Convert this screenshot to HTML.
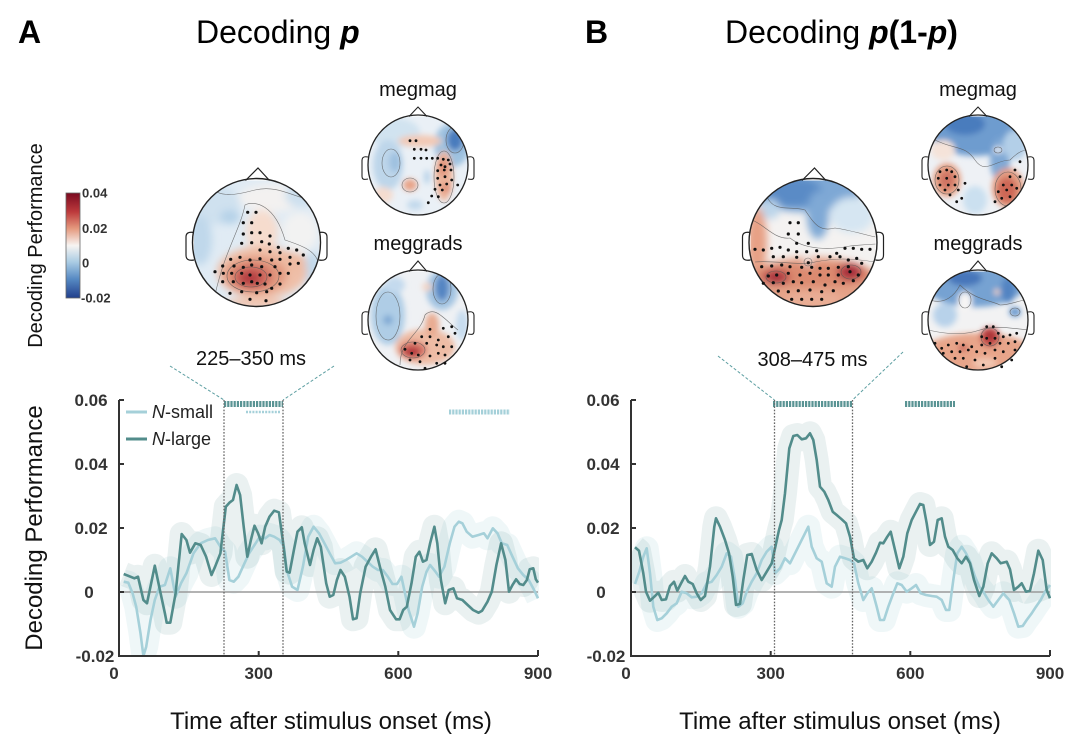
<!DOCTYPE html>
<html><head><meta charset="utf-8"><style>
html,body{margin:0;padding:0;background:#fff;}
svg{display:block;}
text{font-family:"Liberation Sans",Arial,sans-serif;}
</style></head><body>
<svg width="1080" height="750" viewBox="0 0 1080 750" xmlns="http://www.w3.org/2000/svg">
<defs>
<filter id="b4" x="-30%" y="-30%" width="160%" height="160%"><feGaussianBlur stdDeviation="4"/></filter>
<filter id="b3" x="-30%" y="-30%" width="160%" height="160%"><feGaussianBlur stdDeviation="3"/></filter>
<clipPath id="cL"><circle cx="256.5" cy="242.5" r="64"/></clipPath>
<clipPath id="cR"><circle cx="813" cy="242.5" r="64"/></clipPath>
<clipPath id="c1"><circle cx="418" cy="165" r="50"/></clipPath>
<clipPath id="c2"><circle cx="418" cy="320" r="50"/></clipPath>
<clipPath id="c3"><circle cx="978" cy="165" r="50"/></clipPath>
<clipPath id="c4"><circle cx="978" cy="320" r="50"/></clipPath>
<clipPath id="pL"><rect x="119" y="395" width="420" height="261"/></clipPath>
<clipPath id="pR"><rect x="631" y="395" width="420" height="261"/></clipPath>
<linearGradient id="cbar" x1="0" y1="0" x2="0" y2="1">
<stop offset="0" stop-color="#7a0a20"/>
<stop offset="0.18" stop-color="#bd3a3c"/>
<stop offset="0.34" stop-color="#e59a7f"/>
<stop offset="0.5" stop-color="#f7f4f2"/>
<stop offset="0.66" stop-color="#a9cbe3"/>
<stop offset="0.82" stop-color="#5689c3"/>
<stop offset="1" stop-color="#213f8c"/>
</linearGradient>
</defs>

<!-- Panel titles -->
<text x="18" y="43" font-size="32" font-weight="bold" fill="#000">A</text>
<text x="196" y="43" font-size="32" fill="#000">Decoding <tspan font-weight="bold" font-style="italic">p</tspan></text>
<text x="585" y="43" font-size="32" font-weight="bold" fill="#000">B</text>
<text x="725" y="43" font-size="32" fill="#000">Decoding <tspan font-weight="bold" font-style="italic">p</tspan><tspan font-weight="bold">(1-</tspan><tspan font-weight="bold" font-style="italic">p</tspan><tspan font-weight="bold">)</tspan></text>

<!-- Colorbar -->
<text transform="translate(42,245.5) rotate(-90)" text-anchor="middle" font-size="20" fill="#111">Decoding Performance</text>
<rect x="66" y="193" width="14" height="105" fill="url(#cbar)" stroke="#666" stroke-width="0.8"/>
<g font-size="13" font-weight="bold" fill="#333">
<text x="82" y="197.5">0.04</text>
<text x="82" y="233">0.02</text>
<text x="82" y="267.5">0</text>
<text x="81" y="302.5">-0.02</text>
</g>

<!-- ===== LEFT BIG HEAD ===== -->
<g clip-path="url(#cL)">
<circle cx="256.5" cy="242.5" r="64" fill="#e0ebf4"/>
<g filter="url(#b4)">
<ellipse cx="272" cy="198" rx="33" ry="14" fill="#f3f1f0"/>
<ellipse cx="300" cy="232" rx="18" ry="20" fill="#f2f2f2"/>
<ellipse cx="215" cy="205" rx="25" ry="20" fill="#cfe1ef"/>
<ellipse cx="230" cy="217" rx="10" ry="7" fill="#b5d2e8"/>
<ellipse cx="200" cy="240" rx="12" ry="25" fill="#c0d8eb"/>
<ellipse cx="300" cy="195" rx="15" ry="12" fill="#cde0ef"/>
<ellipse cx="313" cy="270" rx="8" ry="18" fill="#c2d9eb"/>
<ellipse cx="262" cy="232" rx="16" ry="22" fill="#f6dccd"/>
<ellipse cx="262" cy="272" rx="45" ry="26" fill="#efbfa8"/>
<ellipse cx="292" cy="262" rx="14" ry="10" fill="#eebba3"/>
<ellipse cx="255" cy="275" rx="32" ry="19" fill="#e29a80"/>
<ellipse cx="252" cy="277" rx="20" ry="13" fill="#cf6a5e"/>
<ellipse cx="250" cy="278" rx="11" ry="7" fill="#b23a40"/>
<ellipse cx="256" cy="303" rx="30" ry="6" fill="#f0c6b2"/>
</g>
<g fill="none" stroke="#555" stroke-width="0.6" opacity="0.8">
<ellipse cx="253" cy="276" rx="26" ry="16"/>
<ellipse cx="251" cy="277" rx="16" ry="10"/>
<path d="M215,295 C225,250 240,230 245,205 C255,200 275,205 285,240 C300,245 315,250 318,262"/>
<path d="M205,180 C215,200 235,195 255,190 C275,185 290,195 310,200"/>
</g>
</g>
<path d="M194,232.5 C188,231.5 186,233.5 186,237 L186,255 C186,259 188,261 194,260" fill="#fff" stroke="#222" stroke-width="1.2"/>
<path d="M319,232.5 C325,231.5 327,233.5 327,237 L327,255 C327,259 325,261 319,260" fill="#fff" stroke="#222" stroke-width="1.2"/>
<path d="M245.5,180.5 L258,168 L269.5,180.5" fill="#fff" stroke="#222" stroke-width="1.2"/>
<circle cx="256.5" cy="242.5" r="64" fill="none" stroke="#222" stroke-width="1.4"/>
<g fill="#111">
<circle cx="247.7" cy="212.3" r="1.6"/><circle cx="256" cy="212.3" r="1.6"/><circle cx="243.3" cy="222.7" r="1.6"/><circle cx="251.7" cy="222.7" r="1.6"/><circle cx="243.3" cy="234" r="1.6"/><circle cx="251.7" cy="232.7" r="1.6"/><circle cx="260" cy="232.7" r="1.6"/><circle cx="241.7" cy="243.3" r="1.6"/><circle cx="251.7" cy="242.7" r="1.6"/><circle cx="261.7" cy="241.7" r="1.6"/><circle cx="270" cy="236" r="1.6"/><circle cx="269.3" cy="244" r="1.6"/><circle cx="278.3" cy="247.3" r="1.6"/><circle cx="288.3" cy="248.3" r="1.6"/><circle cx="296.7" cy="250" r="1.6"/><circle cx="260" cy="250" r="1.6"/><circle cx="270" cy="251.7" r="1.6"/><circle cx="280" cy="252.7" r="1.6"/><circle cx="230.7" cy="259.3" r="1.6"/><circle cx="240" cy="257.3" r="1.6"/><circle cx="250" cy="260" r="1.6"/><circle cx="260" cy="258.7" r="1.6"/><circle cx="271.7" cy="260" r="1.6"/><circle cx="280" cy="259.3" r="1.6"/><circle cx="290" cy="257.3" r="1.6"/><circle cx="303.3" cy="255" r="1.6"/><circle cx="222.7" cy="266" r="1.6"/><circle cx="234" cy="266" r="1.6"/><circle cx="243.3" cy="267.3" r="1.6"/><circle cx="251.7" cy="265" r="1.6"/><circle cx="261.7" cy="266.7" r="1.6"/><circle cx="275" cy="266.7" r="1.6"/><circle cx="290" cy="264" r="1.6"/><circle cx="298.3" cy="263.3" r="1.6"/><circle cx="215" cy="271.7" r="1.6"/><circle cx="223.3" cy="273.3" r="1.6"/><circle cx="231.7" cy="273.3" r="1.6"/><circle cx="241.7" cy="273.3" r="1.6"/><circle cx="250" cy="275" r="1.6"/><circle cx="260" cy="275" r="1.6"/><circle cx="270" cy="275" r="1.6"/><circle cx="280" cy="273.3" r="1.6"/><circle cx="288.3" cy="273.3" r="1.6"/><circle cx="222.7" cy="281.7" r="1.6"/><circle cx="233.3" cy="281.7" r="1.6"/><circle cx="243.3" cy="283.3" r="1.6"/><circle cx="251.7" cy="281.7" r="1.6"/><circle cx="257.3" cy="283.3" r="1.6"/><circle cx="265" cy="284" r="1.6"/><circle cx="271.7" cy="288.3" r="1.6"/><circle cx="280" cy="284" r="1.6"/><circle cx="230" cy="293.3" r="1.6"/><circle cx="241.7" cy="291.7" r="1.6"/><circle cx="256.7" cy="292.7" r="1.6"/><circle cx="266.7" cy="291.7" r="1.6"/><circle cx="250" cy="299.3" r="1.6"/><circle cx="266" cy="300.7" r="1.6"/>
</g>

<!-- ===== LEFT MEGMAG ===== -->
<text x="418" y="96" text-anchor="middle" font-size="20" fill="#111">megmag</text>
<g clip-path="url(#c1)">
<circle cx="418" cy="165" r="50" fill="#eaf0f6"/>
<g filter="url(#b3)">
<ellipse cx="395" cy="133" rx="25" ry="15" fill="#d1e3f0"/>
<ellipse cx="452" cy="145" rx="18" ry="22" fill="#9fc2e0"/>
<ellipse cx="455" cy="140" rx="8" ry="11" fill="#4a7bbd"/>
<ellipse cx="388" cy="165" rx="15" ry="25" fill="#bdd6ea"/>
<ellipse cx="395" cy="162" rx="6" ry="10" fill="#9fc1e0"/>
<ellipse cx="420" cy="141" rx="22" ry="6" fill="#f2c9b5"/>
<ellipse cx="444" cy="176" rx="9" ry="25" fill="#edb69d"/>
<ellipse cx="443" cy="167" rx="5" ry="9" fill="#e0937a"/>
<ellipse cx="446" cy="188" rx="5" ry="5" fill="#e0937a"/>
<ellipse cx="410" cy="185" rx="7" ry="6" fill="#e8a286"/>
<ellipse cx="427" cy="177" rx="3" ry="7" fill="#b7d2e8"/>
<ellipse cx="415" cy="205" rx="8" ry="5" fill="#c2d9ec"/>
<ellipse cx="383" cy="195" rx="10" ry="8" fill="#f5dccf"/>
</g>
<g fill="none" stroke="#555" stroke-width="0.6" opacity="0.8">
<ellipse cx="455" cy="140" rx="9" ry="13"/>
<ellipse cx="444" cy="177" rx="10" ry="26"/>
<ellipse cx="410" cy="185" rx="8" ry="7"/>
<ellipse cx="391" cy="163" rx="9" ry="14"/>
</g>
</g>
<path d="M368,157 C363,156 362,158 362,161 L362,176 C362,179 363,180 368,179" fill="#fff" stroke="#222" stroke-width="1.1"/>
<path d="M468,157 C473,156 474,158 474,161 L474,176 C474,179 473,180 468,179" fill="#fff" stroke="#222" stroke-width="1.1"/>
<path d="M409,116.5 L418,107 L427,116.5" fill="#fff" stroke="#222" stroke-width="1.1"/>
<circle cx="418" cy="165" r="50" fill="none" stroke="#222" stroke-width="1.3"/>
<g fill="#111">
<circle cx="410" cy="140.7" r="1.4"/><circle cx="416" cy="140.7" r="1.4"/><circle cx="414.3" cy="149.3" r="1.4"/><circle cx="421" cy="149.3" r="1.4"/><circle cx="426" cy="150" r="1.4"/><circle cx="414.3" cy="158.3" r="1.4"/><circle cx="421" cy="158.3" r="1.4"/><circle cx="426.7" cy="158.3" r="1.4"/><circle cx="432.3" cy="158.3" r="1.4"/><circle cx="437.7" cy="158.3" r="1.4"/><circle cx="443.3" cy="159.3" r="1.4"/><circle cx="448.3" cy="160" r="1.4"/><circle cx="441" cy="165" r="1.4"/><circle cx="445" cy="166.7" r="1.4"/><circle cx="450" cy="164" r="1.4"/><circle cx="437.7" cy="170.7" r="1.4"/><circle cx="444.3" cy="170" r="1.4"/><circle cx="451" cy="170" r="1.4"/><circle cx="437.7" cy="178.3" r="1.4"/><circle cx="445" cy="176.7" r="1.4"/><circle cx="451.7" cy="180" r="1.4"/><circle cx="457.7" cy="185" r="1.4"/><circle cx="440" cy="185" r="1.4"/><circle cx="446.7" cy="184" r="1.4"/><circle cx="435" cy="189.3" r="1.4"/><circle cx="442.3" cy="190" r="1.4"/><circle cx="431.7" cy="196" r="1.4"/><circle cx="438.3" cy="196.7" r="1.4"/><circle cx="428.3" cy="202.7" r="1.4"/>
</g>

<!-- ===== LEFT MEGGRADS ===== -->
<text x="418" y="250" text-anchor="middle" font-size="20" fill="#111">meggrads</text>
<g clip-path="url(#c2)">
<circle cx="418" cy="320" r="50" fill="#eff1f4"/>
<g filter="url(#b3)">
<ellipse cx="388" cy="315" rx="17" ry="30" fill="#afcde6"/>
<ellipse cx="388" cy="320" rx="5" ry="5" fill="#7fa9d4"/>
<ellipse cx="442" cy="290" rx="16" ry="20" fill="#a4c5e2"/>
<ellipse cx="442" cy="288" rx="7" ry="13" fill="#5585c2"/>
<ellipse cx="427" cy="287" rx="5" ry="4" fill="#f3d3c3"/>
<ellipse cx="425" cy="347" rx="30" ry="18" fill="#eebca5"/>
<ellipse cx="432" cy="325" rx="7" ry="12" fill="#e9ac92"/>
<ellipse cx="413" cy="350" rx="14" ry="9" fill="#d7786a"/>
<ellipse cx="412" cy="352" rx="8" ry="5" fill="#b3343b"/>
<ellipse cx="462" cy="325" rx="6" ry="15" fill="#c6dcef"/>
<ellipse cx="395" cy="285" rx="10" ry="8" fill="#c4daee"/>
</g>
<g fill="none" stroke="#555" stroke-width="0.6" opacity="0.8">
<ellipse cx="442" cy="289" rx="9" ry="15"/>
<ellipse cx="413" cy="350" rx="12" ry="8"/>
<ellipse cx="388" cy="316" rx="12" ry="24"/>
<path d="M400,365 C400,340 420,335 425,315 C435,305 445,320 458,330"/>
</g>
</g>
<path d="M368,312 C363,311 362,313 362,316 L362,331 C362,334 363,335 368,334" fill="#fff" stroke="#222" stroke-width="1.1"/>
<path d="M468,312 C473,311 474,313 474,316 L474,331 C474,334 473,335 468,334" fill="#fff" stroke="#222" stroke-width="1.1"/>
<path d="M409,271.5 L418,261 L427,271.5" fill="#fff" stroke="#222" stroke-width="1.1"/>
<circle cx="418" cy="320" r="50" fill="none" stroke="#222" stroke-width="1.3"/>
<g fill="#111">
<circle cx="430" cy="329.3" r="1.4"/><circle cx="421.7" cy="336.7" r="1.4"/><circle cx="430" cy="336.7" r="1.4"/><circle cx="438.3" cy="340" r="1.4"/><circle cx="415" cy="343.3" r="1.4"/><circle cx="426.7" cy="343.3" r="1.4"/><circle cx="436.7" cy="345" r="1.4"/><circle cx="448.3" cy="336.7" r="1.4"/><circle cx="455" cy="333.3" r="1.4"/><circle cx="443.3" cy="346.7" r="1.4"/><circle cx="451.7" cy="346.7" r="1.4"/><circle cx="405" cy="349.3" r="1.4"/><circle cx="411.7" cy="353.3" r="1.4"/><circle cx="418.3" cy="355" r="1.4"/><circle cx="410" cy="360" r="1.4"/><circle cx="420" cy="361.7" r="1.4"/><circle cx="430" cy="356" r="1.4"/><circle cx="438.3" cy="353.3" r="1.4"/><circle cx="445" cy="355" r="1.4"/><circle cx="436.7" cy="363.3" r="1.4"/><circle cx="445" cy="363.3" r="1.4"/><circle cx="425" cy="368.3" r="1.4"/><circle cx="451.7" cy="326.7" r="1.4"/><circle cx="443.3" cy="328.3" r="1.4"/>
</g>

<!-- ===== RIGHT BIG HEAD ===== -->
<g clip-path="url(#cR)">
<circle cx="813" cy="242.5" r="64" fill="#f4f2f1"/>
<g filter="url(#b4)">
<ellipse cx="805" cy="188" rx="58" ry="24" fill="#7ea8d5"/>
<ellipse cx="792" cy="192" rx="30" ry="15" fill="#5a8bc6"/>
<ellipse cx="818" cy="215" rx="11" ry="24" fill="#7fa9d5"/>
<ellipse cx="852" cy="215" rx="22" ry="18" fill="#d6e6f2"/>
<ellipse cx="770" cy="209" rx="10" ry="10" fill="#bcd5ea"/>
<ellipse cx="757" cy="242" rx="10" ry="35" fill="#e7a085"/>
<ellipse cx="813" cy="287" rx="72" ry="30" fill="#e4a187"/>
<ellipse cx="813" cy="275" rx="60" ry="12" fill="#dc8a70"/>
<ellipse cx="776" cy="277" rx="14" ry="8" fill="#bb4548"/>
<ellipse cx="850" cy="272" rx="13" ry="9" fill="#b63b44"/>
<ellipse cx="776" cy="278" rx="6" ry="4" fill="#9c2236"/>
<ellipse cx="850" cy="272" rx="6" ry="5" fill="#9c2236"/>
<ellipse cx="813" cy="300" rx="30" ry="9" fill="#e9ad95"/>
<ellipse cx="808" cy="262" rx="4" ry="4" fill="#f4ece8"/>
</g>
<g fill="none" stroke="#555" stroke-width="0.6" opacity="0.8">
<path d="M765,190 C770,215 790,205 805,210 C815,225 820,232 835,228 C850,230 865,235 880,238"/>
<path d="M752,220 C765,225 775,240 790,238 C805,250 830,250 850,246 C862,245 870,244 878,244"/>
<ellipse cx="776" cy="277" rx="10" ry="6"/>
<ellipse cx="851" cy="272" rx="10" ry="7"/>
<ellipse cx="808" cy="262" rx="4" ry="4"/>
<path d="M755,262 C775,260 800,266 815,262 C835,258 850,258 875,262"/>
</g>
</g>
<path d="M750.5,232.5 C744.5,231.5 742.5,233.5 742.5,237 L742.5,255 C742.5,259 744.5,261 750.5,260" fill="#fff" stroke="#222" stroke-width="1.2"/>
<path d="M875.5,232.5 C881.5,231.5 883.5,233.5 883.5,237 L883.5,255 C883.5,259 881.5,261 875.5,260" fill="#fff" stroke="#222" stroke-width="1.2"/>
<path d="M802,180.5 L814.5,168 L826,180.5" fill="#fff" stroke="#222" stroke-width="1.2"/>
<circle cx="813" cy="242.5" r="64" fill="none" stroke="#222" stroke-width="1.4"/>
<g fill="#111">
<circle cx="790" cy="222.7" r="1.6"/><circle cx="798.3" cy="222.7" r="1.6"/><circle cx="788.3" cy="234" r="1.6"/><circle cx="798.3" cy="234" r="1.6"/><circle cx="796.7" cy="243.3" r="1.6"/><circle cx="808.3" cy="243.3" r="1.6"/><circle cx="780" cy="247.3" r="1.6"/><circle cx="771.7" cy="248.3" r="1.6"/><circle cx="763.3" cy="250" r="1.6"/><circle cx="755" cy="249.3" r="1.6"/><circle cx="788.3" cy="250" r="1.6"/><circle cx="796.7" cy="251.7" r="1.6"/><circle cx="806.7" cy="251.7" r="1.6"/><circle cx="816.7" cy="250.7" r="1.6"/><circle cx="830" cy="256.7" r="1.6"/><circle cx="836.7" cy="253.3" r="1.6"/><circle cx="845" cy="248.3" r="1.6"/><circle cx="853.3" cy="248.3" r="1.6"/><circle cx="861.7" cy="249.3" r="1.6"/><circle cx="870" cy="249.3" r="1.6"/><circle cx="773.3" cy="256.7" r="1.6"/><circle cx="783.3" cy="256.7" r="1.6"/><circle cx="796.7" cy="257.3" r="1.6"/><circle cx="818.3" cy="256.7" r="1.6"/><circle cx="840" cy="256.7" r="1.6"/><circle cx="848.3" cy="260" r="1.6"/><circle cx="856.7" cy="258.3" r="1.6"/><circle cx="761.7" cy="266.7" r="1.6"/><circle cx="771.7" cy="266" r="1.6"/><circle cx="781.7" cy="265" r="1.6"/><circle cx="790" cy="266.7" r="1.6"/><circle cx="801.7" cy="267.3" r="1.6"/><circle cx="811.7" cy="267.3" r="1.6"/><circle cx="820" cy="268.3" r="1.6"/><circle cx="828.3" cy="268.3" r="1.6"/><circle cx="838.3" cy="267.3" r="1.6"/><circle cx="848.3" cy="266.7" r="1.6"/><circle cx="861.7" cy="263.3" r="1.6"/><circle cx="768.3" cy="276" r="1.6"/><circle cx="776.7" cy="275" r="1.6"/><circle cx="788.3" cy="273.3" r="1.6"/><circle cx="800" cy="275" r="1.6"/><circle cx="810" cy="273.3" r="1.6"/><circle cx="820" cy="275" r="1.6"/><circle cx="828.3" cy="275" r="1.6"/><circle cx="838.3" cy="275" r="1.6"/><circle cx="850" cy="271.7" r="1.6"/><circle cx="858.3" cy="275" r="1.6"/><circle cx="763.3" cy="283.3" r="1.6"/><circle cx="773.3" cy="282.7" r="1.6"/><circle cx="783.3" cy="283.3" r="1.6"/><circle cx="793.3" cy="281.7" r="1.6"/><circle cx="801.7" cy="282.7" r="1.6"/><circle cx="813.3" cy="281.7" r="1.6"/><circle cx="825" cy="285" r="1.6"/><circle cx="835" cy="281.7" r="1.6"/><circle cx="843.3" cy="283.3" r="1.6"/><circle cx="853.3" cy="280.7" r="1.6"/><circle cx="778.3" cy="291" r="1.6"/><circle cx="788.3" cy="291.7" r="1.6"/><circle cx="798.3" cy="290.7" r="1.6"/><circle cx="810" cy="290" r="1.6"/><circle cx="821.7" cy="291.7" r="1.6"/><circle cx="833.3" cy="290.7" r="1.6"/><circle cx="791.7" cy="299.3" r="1.6"/><circle cx="801.7" cy="299.3" r="1.6"/><circle cx="811.7" cy="299.3" r="1.6"/><circle cx="821.7" cy="299.3" r="1.6"/><circle cx="808.3" cy="262.7" r="1.6"/>
</g>

<!-- ===== RIGHT MEGMAG ===== -->
<text x="978" y="96" text-anchor="middle" font-size="20" fill="#111">megmag</text>
<g clip-path="url(#c3)">
<circle cx="978" cy="165" r="50" fill="#eef1f5"/>
<g filter="url(#b3)">
<ellipse cx="975" cy="133" rx="44" ry="23" fill="#6e9ccf"/>
<ellipse cx="965" cy="124" rx="20" ry="11" fill="#4a7bbd"/>
<ellipse cx="1000" cy="160" rx="10" ry="22" fill="#80a9d5"/>
<ellipse cx="1015" cy="145" rx="12" ry="15" fill="#b3cfe8"/>
<ellipse cx="998" cy="150" rx="4" ry="3" fill="#f7f7f7"/>
<ellipse cx="943" cy="150" rx="12" ry="10" fill="#f5e3d9"/>
<ellipse cx="947" cy="180" rx="14" ry="17" fill="#e6a185"/>
<ellipse cx="947" cy="180" rx="8" ry="10" fill="#d07563"/>
<ellipse cx="1008" cy="188" rx="16" ry="20" fill="#e49d82"/>
<ellipse cx="1007" cy="190" rx="10" ry="13" fill="#cd6757"/>
<ellipse cx="975" cy="200" rx="12" ry="14" fill="#cbe0f0"/>
</g>
<g fill="none" stroke="#555" stroke-width="0.6" opacity="0.8">
<ellipse cx="947" cy="180" rx="12" ry="14"/>
<ellipse cx="1008" cy="189" rx="13" ry="17"/>
<ellipse cx="998" cy="150" rx="4" ry="3"/>
<path d="M935,140 C955,150 965,145 975,160 C985,175 995,160 1010,160 C1020,150 1025,150 1028,150"/>
</g>
</g>
<path d="M928,157 C923,156 922,158 922,161 L922,176 C922,179 923,180 928,179" fill="#fff" stroke="#222" stroke-width="1.1"/>
<path d="M1028,157 C1033,156 1034,158 1034,161 L1034,176 C1034,179 1033,180 1028,179" fill="#fff" stroke="#222" stroke-width="1.1"/>
<path d="M969,116.5 L978,107 L987,116.5" fill="#fff" stroke="#222" stroke-width="1.1"/>
<circle cx="978" cy="165" r="50" fill="none" stroke="#222" stroke-width="1.3"/>
<g fill="#111">
<circle cx="940" cy="171.7" r="1.4"/><circle cx="946.7" cy="170" r="1.4"/><circle cx="951.7" cy="171.7" r="1.4"/><circle cx="938.3" cy="178.3" r="1.4"/><circle cx="946.7" cy="178.3" r="1.4"/><circle cx="955" cy="176.7" r="1.4"/><circle cx="940" cy="185" r="1.4"/><circle cx="948.3" cy="185" r="1.4"/><circle cx="955" cy="185" r="1.4"/><circle cx="965" cy="183.3" r="1.4"/><circle cx="945" cy="190" r="1.4"/><circle cx="958.3" cy="190" r="1.4"/><circle cx="950" cy="195" r="1.4"/><circle cx="956.7" cy="201.7" r="1.4"/><circle cx="961.7" cy="198.3" r="1.4"/>
<circle cx="1020" cy="161.7" r="1.4"/><circle cx="1015" cy="170" r="1.4"/><circle cx="1010" cy="176.7" r="1.4"/><circle cx="1020" cy="176.7" r="1.4"/><circle cx="1003.3" cy="185" r="1.4"/><circle cx="1011.7" cy="185" r="1.4"/><circle cx="998.3" cy="191.7" r="1.4"/><circle cx="1006.7" cy="190" r="1.4"/><circle cx="1016.7" cy="188.3" r="1.4"/><circle cx="1001.7" cy="198.3" r="1.4"/><circle cx="1010" cy="196.7" r="1.4"/><circle cx="995" cy="201.7" r="1.4"/>
</g>

<!-- ===== RIGHT MEGGRADS ===== -->
<text x="978" y="250" text-anchor="middle" font-size="20" fill="#111">meggrads</text>
<g clip-path="url(#c4)">
<circle cx="978" cy="320" r="50" fill="#f2f2f3"/>
<g filter="url(#b3)">
<ellipse cx="975" cy="287" rx="48" ry="20" fill="#76a2d2"/>
<ellipse cx="965" cy="278" rx="17" ry="8" fill="#4676ba"/>
<ellipse cx="1008" cy="290" rx="7" ry="13" fill="#5284c2"/>
<ellipse cx="965" cy="301" rx="7" ry="9" fill="#f7f5f4"/>
<ellipse cx="997" cy="292" rx="3" ry="3" fill="#f3d3c3"/>
<ellipse cx="1015" cy="312" rx="6" ry="5" fill="#6a99ce"/>
<ellipse cx="945" cy="315" rx="12" ry="12" fill="#b8d2ea"/>
<ellipse cx="978" cy="353" rx="56" ry="20" fill="#e8a58a"/>
<ellipse cx="990" cy="337" rx="10" ry="10" fill="#c4504c"/>
<ellipse cx="990" cy="336" rx="5" ry="5" fill="#a82d36"/>
<ellipse cx="963" cy="348" rx="5" ry="3" fill="#c65a52"/>
<ellipse cx="985" cy="363" rx="12" ry="5" fill="#f2c8b4"/>
</g>
<g fill="none" stroke="#555" stroke-width="0.6" opacity="0.8">
<ellipse cx="990" cy="337" rx="9" ry="9"/>
<ellipse cx="965" cy="300" rx="6" ry="8"/>
<ellipse cx="1015" cy="312" rx="5" ry="4"/>
<path d="M928,330 C950,335 965,335 980,330 C995,325 1010,328 1028,330"/>
<path d="M930,300 C945,305 955,295 960,285 C975,300 990,300 1000,305 C1010,305 1020,300 1026,300"/>
</g>
</g>
<path d="M928,312 C923,311 922,313 922,316 L922,331 C922,334 923,335 928,334" fill="#fff" stroke="#222" stroke-width="1.1"/>
<path d="M1028,312 C1033,311 1034,313 1034,316 L1034,331 C1034,334 1033,335 1028,334" fill="#fff" stroke="#222" stroke-width="1.1"/>
<path d="M969,271.5 L978,261 L987,271.5" fill="#fff" stroke="#222" stroke-width="1.1"/>
<circle cx="978" cy="320" r="50" fill="none" stroke="#222" stroke-width="1.3"/>
<g fill="#111">
<circle cx="986.7" cy="326.7" r="1.4"/><circle cx="993.3" cy="326.7" r="1.4"/><circle cx="998.3" cy="333.3" r="1.4"/><circle cx="981.7" cy="336.7" r="1.4"/><circle cx="986.7" cy="338.3" r="1.4"/><circle cx="995" cy="338.3" r="1.4"/><circle cx="1003.3" cy="336.7" r="1.4"/><circle cx="1010" cy="335" r="1.4"/><circle cx="1016.7" cy="333.3" r="1.4"/><circle cx="1015" cy="341.7" r="1.4"/><circle cx="1008.3" cy="343.3" r="1.4"/><circle cx="1000" cy="343.3" r="1.4"/><circle cx="990" cy="343.3" r="1.4"/><circle cx="981.7" cy="345" r="1.4"/><circle cx="971.7" cy="346.7" r="1.4"/><circle cx="963.3" cy="345" r="1.4"/><circle cx="956.7" cy="343.3" r="1.4"/><circle cx="948.3" cy="345" r="1.4"/><circle cx="941.7" cy="348.3" r="1.4"/><circle cx="935" cy="343.3" r="1.4"/><circle cx="943.3" cy="353.3" r="1.4"/><circle cx="951.7" cy="351.7" r="1.4"/><circle cx="960" cy="351.7" r="1.4"/><circle cx="968.3" cy="350" r="1.4"/><circle cx="976.7" cy="351.7" r="1.4"/><circle cx="985" cy="353.3" r="1.4"/><circle cx="995" cy="350" r="1.4"/><circle cx="1003.3" cy="351.7" r="1.4"/><circle cx="1015" cy="350" r="1.4"/><circle cx="955" cy="358.3" r="1.4"/><circle cx="963.3" cy="358.3" r="1.4"/><circle cx="975" cy="360" r="1.4"/><circle cx="995" cy="358.3" r="1.4"/><circle cx="1011.7" cy="360" r="1.4"/><circle cx="983.3" cy="365" r="1.4"/><circle cx="966.7" cy="366.7" r="1.4"/><circle cx="1001.7" cy="366.7" r="1.4"/>
</g>

<!-- time window labels -->
<text x="251" y="365" text-anchor="middle" font-size="20" fill="#111">225–350 ms</text>
<text x="812.5" y="366" text-anchor="middle" font-size="20" fill="#111">308–475 ms</text>

<!-- diagonal connectors -->
<g stroke="#5c9ea1" stroke-width="1" stroke-dasharray="3 2" fill="none">
<line x1="170" y1="366" x2="224" y2="400"/>
<line x1="334" y1="366" x2="283" y2="400"/>
<line x1="718" y1="356" x2="774.5" y2="400"/>
<line x1="903" y1="352" x2="852.5" y2="400"/>
</g>

<!-- ===== LEFT PLOT ===== -->
<g clip-path="url(#pL)">
<polyline fill="none" stroke="#a5d0d9" stroke-opacity="0.18" stroke-width="24" stroke-linejoin="round" stroke-linecap="butt" points="123.7,581.7 128.3,582.7 132.6,593.3 136.2,606.7 140.5,633.3 143.4,656 146.2,646.7 150.5,620 154.8,600 159.5,586.7 164.9,585 170.3,568.3 175.6,596.7 181,583.3 186.4,573.3 193.5,553.3 200.7,543.3 207.9,540 215.1,538.3 220.4,546.7 225.1,551.7 229.4,580 233.7,581.7 238.4,576.7 243.7,565 249.1,553.3 254.5,545 259.9,536.7 265.2,538.3 269.5,535 274.2,536.7 279.6,540 283.9,546.7 286.7,570 292.1,586.7 297.5,590 302.9,566.7 308.2,536.7 313.6,526.7 319,533.3 324.4,543.3 329.7,553.3 335.1,563.3 340.5,562.7 345.9,560 351.3,556.7 356.6,553.3 362,556.7 367.4,561.7 372.8,566.7 378.1,570 382.8,570 387.8,576.7 392.5,584 397.1,584 401.4,576.7 405,593.3 408.6,610 414,626.7 417.6,613.3 422.2,586.7 426.5,571.7 430.1,565 435.5,571.7 439.1,576.7 444.4,566.7 449.8,543.3 454.5,526.7 458.8,521.7 462.4,523.3 466.7,531.7 472.4,536.7 478.5,535 483.9,533.3 487.5,538.3 492.8,528.3 497.5,533.3 501.8,543.3 507.2,545 512.5,556.7 517.9,568.3 523.3,575 528.7,580 534.1,590 538,598.3"/>
<polyline fill="none" stroke="#5e9393" stroke-opacity="0.13" stroke-width="24" stroke-linejoin="round" stroke-linecap="butt" points="123.7,574 134.4,578.3 138,576.7 143.4,600 147,603.3 154.8,565.7 160.6,593.3 164.9,613.3 166.7,622.7 170.3,622.7 175.6,593.3 181.7,534 186.4,540 190,552.7 195.3,543.3 200.7,545 206.1,556.7 211.5,575 215.1,566.7 220.4,553.3 225.8,506.7 229.4,502.7 233,500 236.6,485 240.1,495 243.7,526.7 247.3,556.7 250.9,540 254.5,525.7 258.1,533.3 261.6,543.3 265.2,526.7 269.5,516.7 274.2,510.7 278.9,512.3 283.2,543.3 286.7,571.7 289.6,572.7 293.9,550 297.5,531.7 301.8,527.3 304.7,543.3 310,565 313.6,550 317.2,538.3 320.8,546.7 326.2,583.3 329.7,596.7 333.3,595 336.9,580 340.5,570 344.8,576.7 349.5,596.7 353,619.3 356.6,618.3 360.2,593.3 365.6,566.7 371,556.7 375.6,549.3 379.9,566.7 385.3,586.7 390,610 396.1,619.3 399.6,619.3 403.2,610 406.8,606.7 411.5,583.3 415.8,556.7 419.4,551.7 422.9,561.7 426.5,560 430.1,543.3 434.4,526.7 437.3,543.3 440.9,580 445.2,603.3 448.7,590 453.4,588.3 457,598.3 462.4,600 467.7,605 473.1,610 478.5,612.7 482.1,610.7 487.5,601.7 491.8,591.7 496.4,565 501.1,543.3 505.4,560 509,591.7 512.5,585 516.1,579.3 519.7,584 523.3,585 526.9,580 529.7,569.3 533.3,568.3 535.8,579.3 538,582.7"/>
<line x1="119" y1="592" x2="538" y2="592" stroke="#9a9a9a" stroke-width="1.5"/>
<polyline fill="none" stroke="#a5d0d9" stroke-width="2.6" stroke-linejoin="round" points="123.7,581.7 128.3,582.7 132.6,593.3 136.2,606.7 140.5,633.3 143.4,656 146.2,646.7 150.5,620 154.8,600 159.5,586.7 164.9,585 170.3,568.3 175.6,596.7 181,583.3 186.4,573.3 193.5,553.3 200.7,543.3 207.9,540 215.1,538.3 220.4,546.7 225.1,551.7 229.4,580 233.7,581.7 238.4,576.7 243.7,565 249.1,553.3 254.5,545 259.9,536.7 265.2,538.3 269.5,535 274.2,536.7 279.6,540 283.9,546.7 286.7,570 292.1,586.7 297.5,590 302.9,566.7 308.2,536.7 313.6,526.7 319,533.3 324.4,543.3 329.7,553.3 335.1,563.3 340.5,562.7 345.9,560 351.3,556.7 356.6,553.3 362,556.7 367.4,561.7 372.8,566.7 378.1,570 382.8,570 387.8,576.7 392.5,584 397.1,584 401.4,576.7 405,593.3 408.6,610 414,626.7 417.6,613.3 422.2,586.7 426.5,571.7 430.1,565 435.5,571.7 439.1,576.7 444.4,566.7 449.8,543.3 454.5,526.7 458.8,521.7 462.4,523.3 466.7,531.7 472.4,536.7 478.5,535 483.9,533.3 487.5,538.3 492.8,528.3 497.5,533.3 501.8,543.3 507.2,545 512.5,556.7 517.9,568.3 523.3,575 528.7,580 534.1,590 538,598.3"/>
<polyline fill="none" stroke="#528c8b" stroke-width="2.6" stroke-linejoin="round" points="123.7,574 134.4,578.3 138,576.7 143.4,600 147,603.3 154.8,565.7 160.6,593.3 164.9,613.3 166.7,622.7 170.3,622.7 175.6,593.3 181.7,534 186.4,540 190,552.7 195.3,543.3 200.7,545 206.1,556.7 211.5,575 215.1,566.7 220.4,553.3 225.8,506.7 229.4,502.7 233,500 236.6,485 240.1,495 243.7,526.7 247.3,556.7 250.9,540 254.5,525.7 258.1,533.3 261.6,543.3 265.2,526.7 269.5,516.7 274.2,510.7 278.9,512.3 283.2,543.3 286.7,571.7 289.6,572.7 293.9,550 297.5,531.7 301.8,527.3 304.7,543.3 310,565 313.6,550 317.2,538.3 320.8,546.7 326.2,583.3 329.7,596.7 333.3,595 336.9,580 340.5,570 344.8,576.7 349.5,596.7 353,619.3 356.6,618.3 360.2,593.3 365.6,566.7 371,556.7 375.6,549.3 379.9,566.7 385.3,586.7 390,610 396.1,619.3 399.6,619.3 403.2,610 406.8,606.7 411.5,583.3 415.8,556.7 419.4,551.7 422.9,561.7 426.5,560 430.1,543.3 434.4,526.7 437.3,543.3 440.9,580 445.2,603.3 448.7,590 453.4,588.3 457,598.3 462.4,600 467.7,605 473.1,610 478.5,612.7 482.1,610.7 487.5,601.7 491.8,591.7 496.4,565 501.1,543.3 505.4,560 509,591.7 512.5,585 516.1,579.3 519.7,584 523.3,585 526.9,580 529.7,569.3 533.3,568.3 535.8,579.3 538,582.7"/>
</g>
<!-- significance bars left -->
<line x1="224" y1="404" x2="283" y2="404" stroke="#5a9494" stroke-width="6" stroke-dasharray="2.2 1"/>
<line x1="246" y1="412" x2="280" y2="412" stroke="#a5d0d9" stroke-width="2.5" stroke-dasharray="2 1.2"/>
<line x1="449" y1="412" x2="510" y2="412" stroke="#a5d0d9" stroke-width="5" stroke-dasharray="2.2 1"/>
<!-- dotted window lines -->
<g stroke="#666" stroke-width="1.3" stroke-dasharray="1.6 1.6">
<line x1="224" y1="400" x2="224" y2="656"/>
<line x1="283" y1="400" x2="283" y2="656"/>
</g>
<!-- axes left -->
<g stroke="#333" stroke-width="2" fill="none">
<polyline points="119,400 119,656 538,656"/>
<line x1="119" y1="400" x2="124" y2="400"/>
<line x1="119" y1="464" x2="124" y2="464"/>
<line x1="119" y1="528" x2="124" y2="528"/>
<line x1="119" y1="592" x2="124" y2="592"/>
<line x1="258.7" y1="656" x2="258.7" y2="651"/>
<line x1="398.3" y1="656" x2="398.3" y2="651"/>
<line x1="538" y1="656" x2="538" y2="650"/>
</g>
<g font-size="17" font-weight="bold" fill="#333" text-anchor="middle">
<text x="91" y="406">0.06</text>
<text x="91" y="470">0.04</text>
<text x="91" y="534">0.02</text>
<text x="89" y="598">0</text>
<text x="95" y="662">-0.02</text>
<text x="114" y="679">0</text>
<text x="258.7" y="679">300</text>
<text x="398.3" y="679">600</text>
<text x="538" y="679">900</text>
</g>
<!-- legend -->
<line x1="126" y1="412" x2="147" y2="412" stroke="#a5d0d9" stroke-width="3"/>
<text x="152" y="418" font-size="18" fill="#222"><tspan font-style="italic">N</tspan>-small</text>
<line x1="126" y1="439" x2="147" y2="439" stroke="#528c8b" stroke-width="3"/>
<text x="152" y="445" font-size="18" fill="#222"><tspan font-style="italic">N</tspan>-large</text>
<text transform="translate(42,528) rotate(-90)" text-anchor="middle" font-size="24" fill="#111">Decoding Performance</text>
<text x="331" y="729" text-anchor="middle" font-size="24" fill="#111">Time after stimulus onset (ms)</text>

<!-- ===== RIGHT PLOT ===== -->
<g clip-path="url(#pR)">
<polyline fill="none" stroke="#a5d0d9" stroke-opacity="0.18" stroke-width="24" stroke-linejoin="round" stroke-linecap="butt" points="635,584 639.3,571.7 643.3,556.7 646.7,548.3 650,573.3 653.3,606.7 657.3,620 661.7,618.3 666.7,613.3 671.7,606.7 676.7,603.3 681.7,591.7 686.7,593.3 691.7,597.3 696.7,596.7 701.7,593.3 706.7,583.3 711.7,581.7 716.7,575 721.7,566.7 726.7,553.3 731,556.7 735,580 738.3,606.7 742.7,603.3 746.7,591.7 751.7,581.7 756.7,573.3 761.7,560 766.7,551.7 771.7,546.7 775,573.3 780,568.3 785,558.3 790,563.3 795,553.3 800,543.3 805,533.3 808.3,526.7 811.7,546.7 816.7,558.3 821.7,561.7 826.7,583.3 831.7,586.7 835,566.7 840,556.7 845,558.3 850,560 854,563.3 858.3,583.3 863.3,600 867.3,593.3 871.7,588.3 876.7,606.7 880,620 884,620 888.3,606.7 893.3,593.3 897.3,583.3 901.7,585 906.7,591.7 911.7,588.3 916,585 920.7,593.3 926,595 931.7,596 936.7,596.7 941.7,600 946,610 949.3,610 953.3,580 957.3,553.3 961.7,546.7 966,553.3 970,561.7 975,576.7 979.3,586.7 983.3,591.7 988.3,600 993.3,606.7 998.3,600 1003.3,593.3 1009.3,600 1014,613.3 1018.3,626.7 1022.7,626 1026.7,620 1031.7,613.3 1036,606.7 1040.7,600 1045,591.7 1050,585"/>
<polyline fill="none" stroke="#5e9393" stroke-opacity="0.13" stroke-width="24" stroke-linejoin="round" stroke-linecap="butt" points="635,547.3 639,550.7 643.3,573.3 646,591.7 650,600.7 654.3,596.7 658.3,592.7 661.7,600 666,599.3 670,586 674,581.7 677.3,590.7 680.7,584 685,576 688.3,581.7 692.7,584 696.7,593.3 700.7,600 705,596 710,566.7 714.3,526.7 716,518.3 720,526.7 725,540 729,553.3 732.7,576.7 736,605 740,604 743.3,580 747.3,555 751.7,554 756.7,570 761.7,580 766.7,571.7 771.7,563.3 775,548.3 779,530 781.7,520 785,493.3 789.3,448.3 793.3,436 797.3,435 801.7,439.3 806,438.3 810,433.3 813.3,440 816.7,460 820,486.7 824.3,491.7 828.3,500 832.7,511.7 836.7,515 841.7,519.3 846,523.3 850,536.7 854,558.3 858.3,561.7 863.3,560 867.3,568.3 871.7,561.7 876,552.7 880,542.7 883.3,543.3 887.3,536.7 890.7,531.7 895,550 899.3,568.3 903.3,556.7 907.3,533.3 911.7,520 916,511.7 920,504 923.3,505 926.7,523.3 930,545 934,541.7 937.7,520 941.7,518.3 945,536.7 948.3,546.7 952.7,550 957.3,558.3 961.7,563.3 966,556.7 970,563.3 974,580 979.3,596 983.3,586.7 987.7,563.3 991.7,553.3 996.7,558.3 1000.7,563.3 1006.7,561.7 1010,569.3 1014,590 1018.3,586.7 1021.7,583.3 1026,591.7 1030,590.7 1034,573.3 1038.3,550.7 1042.7,560 1046.7,590 1050,598.3"/>
<line x1="631" y1="592" x2="1050" y2="592" stroke="#9a9a9a" stroke-width="1.5"/>
<polyline fill="none" stroke="#a5d0d9" stroke-width="2.6" stroke-linejoin="round" points="635,584 639.3,571.7 643.3,556.7 646.7,548.3 650,573.3 653.3,606.7 657.3,620 661.7,618.3 666.7,613.3 671.7,606.7 676.7,603.3 681.7,591.7 686.7,593.3 691.7,597.3 696.7,596.7 701.7,593.3 706.7,583.3 711.7,581.7 716.7,575 721.7,566.7 726.7,553.3 731,556.7 735,580 738.3,606.7 742.7,603.3 746.7,591.7 751.7,581.7 756.7,573.3 761.7,560 766.7,551.7 771.7,546.7 775,573.3 780,568.3 785,558.3 790,563.3 795,553.3 800,543.3 805,533.3 808.3,526.7 811.7,546.7 816.7,558.3 821.7,561.7 826.7,583.3 831.7,586.7 835,566.7 840,556.7 845,558.3 850,560 854,563.3 858.3,583.3 863.3,600 867.3,593.3 871.7,588.3 876.7,606.7 880,620 884,620 888.3,606.7 893.3,593.3 897.3,583.3 901.7,585 906.7,591.7 911.7,588.3 916,585 920.7,593.3 926,595 931.7,596 936.7,596.7 941.7,600 946,610 949.3,610 953.3,580 957.3,553.3 961.7,546.7 966,553.3 970,561.7 975,576.7 979.3,586.7 983.3,591.7 988.3,600 993.3,606.7 998.3,600 1003.3,593.3 1009.3,600 1014,613.3 1018.3,626.7 1022.7,626 1026.7,620 1031.7,613.3 1036,606.7 1040.7,600 1045,591.7 1050,585"/>
<polyline fill="none" stroke="#528c8b" stroke-width="2.6" stroke-linejoin="round" points="635,547.3 639,550.7 643.3,573.3 646,591.7 650,600.7 654.3,596.7 658.3,592.7 661.7,600 666,599.3 670,586 674,581.7 677.3,590.7 680.7,584 685,576 688.3,581.7 692.7,584 696.7,593.3 700.7,600 705,596 710,566.7 714.3,526.7 716,518.3 720,526.7 725,540 729,553.3 732.7,576.7 736,605 740,604 743.3,580 747.3,555 751.7,554 756.7,570 761.7,580 766.7,571.7 771.7,563.3 775,548.3 779,530 781.7,520 785,493.3 789.3,448.3 793.3,436 797.3,435 801.7,439.3 806,438.3 810,433.3 813.3,440 816.7,460 820,486.7 824.3,491.7 828.3,500 832.7,511.7 836.7,515 841.7,519.3 846,523.3 850,536.7 854,558.3 858.3,561.7 863.3,560 867.3,568.3 871.7,561.7 876,552.7 880,542.7 883.3,543.3 887.3,536.7 890.7,531.7 895,550 899.3,568.3 903.3,556.7 907.3,533.3 911.7,520 916,511.7 920,504 923.3,505 926.7,523.3 930,545 934,541.7 937.7,520 941.7,518.3 945,536.7 948.3,546.7 952.7,550 957.3,558.3 961.7,563.3 966,556.7 970,563.3 974,580 979.3,596 983.3,586.7 987.7,563.3 991.7,553.3 996.7,558.3 1000.7,563.3 1006.7,561.7 1010,569.3 1014,590 1018.3,586.7 1021.7,583.3 1026,591.7 1030,590.7 1034,573.3 1038.3,550.7 1042.7,560 1046.7,590 1050,598.3"/>
</g>
<!-- significance bars right -->
<line x1="773" y1="404" x2="853" y2="404" stroke="#5a9494" stroke-width="6" stroke-dasharray="2.2 1"/>
<line x1="905" y1="404" x2="955" y2="404" stroke="#5a9494" stroke-width="6" stroke-dasharray="2.2 1"/>
<g stroke="#666" stroke-width="1.3" stroke-dasharray="1.6 1.6">
<line x1="774.5" y1="400" x2="774.5" y2="656"/>
<line x1="852.5" y1="400" x2="852.5" y2="656"/>
</g>
<g stroke="#333" stroke-width="2" fill="none">
<polyline points="631,400 631,656 1050,656"/>
<line x1="631" y1="400" x2="636" y2="400"/>
<line x1="631" y1="464" x2="636" y2="464"/>
<line x1="631" y1="528" x2="636" y2="528"/>
<line x1="631" y1="592" x2="636" y2="592"/>
<line x1="770.7" y1="656" x2="770.7" y2="651"/>
<line x1="910.3" y1="656" x2="910.3" y2="651"/>
<line x1="1050" y1="656" x2="1050" y2="650"/>
</g>
<g font-size="17" font-weight="bold" fill="#333" text-anchor="middle">
<text x="603" y="406">0.06</text>
<text x="603" y="470">0.04</text>
<text x="603" y="534">0.02</text>
<text x="601" y="598">0</text>
<text x="606" y="662">-0.02</text>
<text x="626" y="679">0</text>
<text x="770.7" y="679">300</text>
<text x="910.3" y="679">600</text>
<text x="1050" y="679">900</text>
</g>
<text x="840" y="729" text-anchor="middle" font-size="24" fill="#111">Time after stimulus onset (ms)</text>
</svg>
</body></html>
